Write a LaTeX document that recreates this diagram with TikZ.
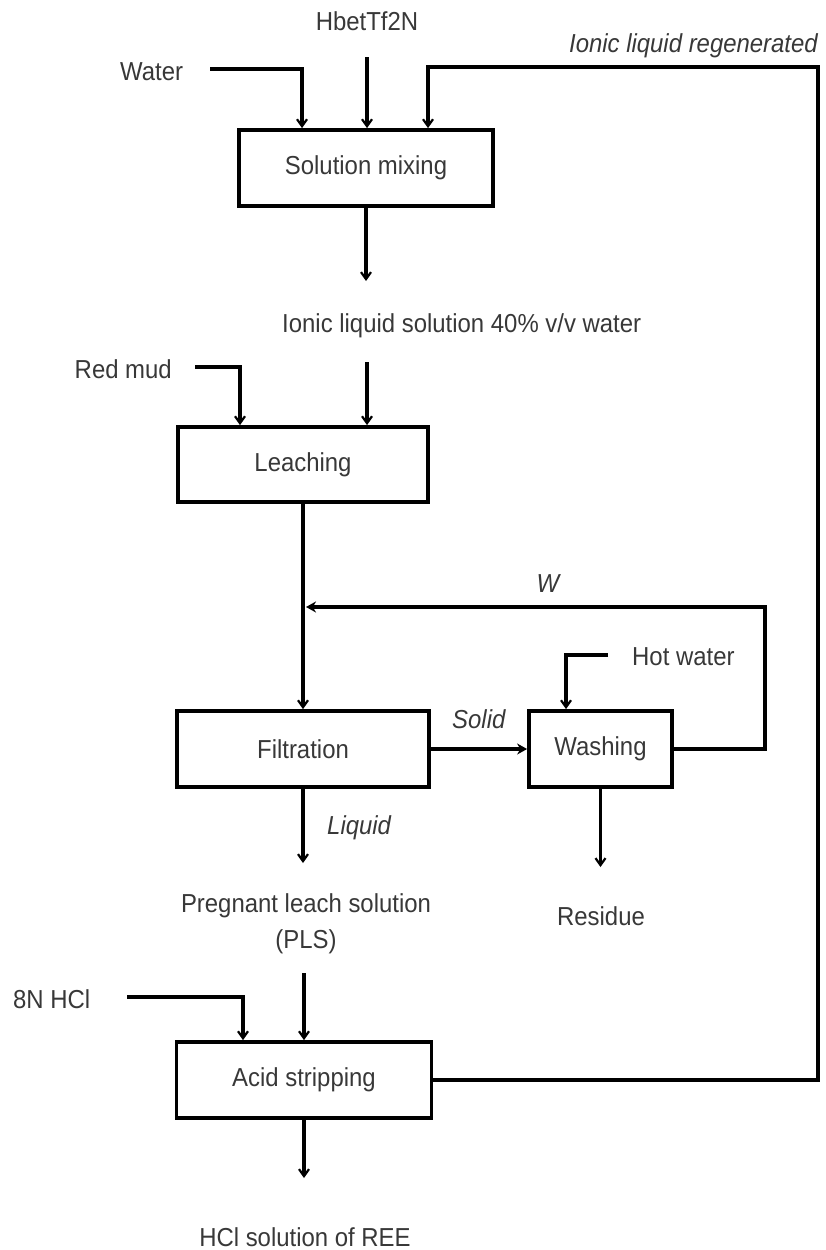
\documentclass[tikz,border=0pt]{standalone}
\usepackage{fontspec}
\setmainfont{Liberation Sans}[FakeStretch=0.92]
\usetikzlibrary{arrows.meta}
\begin{document}
\begin{tikzpicture}[x=1pt,y=-1pt,
  txt/.style={font=\fontsize{26}{34}\selectfont, text=black!78, inner sep=0pt},
  itxt/.style={txt, font=\fontsize{26}{34}\selectfont\itshape},
  box/.style={draw, line width=3.8pt, inner sep=0pt, font=\fontsize{26}{34}\selectfont, text=black!78},
  flow/.style={line width=3.4pt, -{Straight Barb[length=7pt,width=10pt,line width=2.2pt]}},
  fflow/.style={line width=3.4pt, -{Stealth[length=10pt,width=11pt]}},
  plain/.style={line width=3.4pt}]
\useasboundingbox (0,0) rectangle (825,1250);

% process boxes
\node[box, minimum width=254pt, minimum height=76pt] (sm) at (366,168) {Solution mixing};
\node[box, minimum width=250pt, minimum height=75pt] (leach) at (303,464.5) {Leaching};
\node[box, minimum width=252pt, minimum height=76pt] (filt) at (303,749) {Filtration};
\node[box, minimum width=143pt, minimum height=76pt] (wash) at (600.5,749) {Washing};
\node[box, minimum width=255pt, minimum height=76pt] (acid) at (304,1080) {Acid stripping};

% labels
\node[txt, anchor=base] (hb) at (367,30) {HbetTf2N};
\node[txt, anchor=base west] (water) at (120,80) {Water};
\node[itxt, anchor=base east] (ilr) at (818,52) {Ionic liquid regenerated};
\node[txt, anchor=base west] (ils) at (282,332) {Ionic liquid solution 40\% v/v water};
\node[txt, anchor=base east] (rm) at (172,378) {Red mud};
\node[itxt, anchor=base] (wl) at (548,592) {W};
\node[txt, anchor=base west] (hw) at (632,665) {Hot water};
\node[itxt, anchor=base west] (solid) at (452,728) {Solid};
\node[itxt, anchor=base west] (liq) at (327,834) {Liquid};
\node[txt, anchor=base] (res) at (601,925) {Residue};
\node[txt, anchor=base] (pls1) at (306,912) {Pregnant leach solution};
\node[txt, anchor=base] (pls2) at (306,948) {(PLS)};
\node[txt, anchor=base west] (hcl) at (13,1008) {8N HCl};
\node[txt, anchor=base] (ree) at (305,1246) {HCl solution of REE};

% free ends
\coordinate (wst) at (210,69);
\coordinate (hbst) at (367,57);
\coordinate (rtop) at (818,67);
\coordinate (smout) at (366,281);
\coordinate (ilsst) at (367,362);
\coordinate (rmst) at (195,367);
\coordinate (fbc) at (765,607);
\coordinate (fbend) at (306,607);
\coordinate (hwst) at (608,655);
\coordinate (liqend) at (303,863);
\coordinate (resend) at (600.5,867);
\coordinate (plsst) at (304,973);
\coordinate (hclst) at (127,997);
\coordinate (reeend) at (304,1178);

% connectors
\draw[flow] (wst) -| (302,0 |- sm.north);
\draw[flow] (hbst) -- (367,0 |- sm.north);
\draw[flow] (acid.east) -| (rtop) -| (428,0 |- sm.north);
\draw[flow] (sm.south) -- (smout);
\draw[flow] (ilsst) -- (367,0 |- leach.north);
\draw[flow] (rmst) -| (240,0 |- leach.north);
\draw[flow] (leach.south) -- (filt.north);
\draw[fflow] (wash.east) -| (fbc) -- (fbend);
\draw[flow] (hwst) -| (566,0 |- wash.north);
\draw[fflow] (filt.east) -- (wash.west);
\draw[flow] (filt.south) -- (liqend);
\draw[flow] (wash.south) -- (resend);
\draw[flow] (plsst) -- (304,0 |- acid.north);
\draw[flow] (hclst) -| (243,0 |- acid.north);
\draw[flow] (acid.south) -- (reeend);
\end{tikzpicture}
\end{document}
